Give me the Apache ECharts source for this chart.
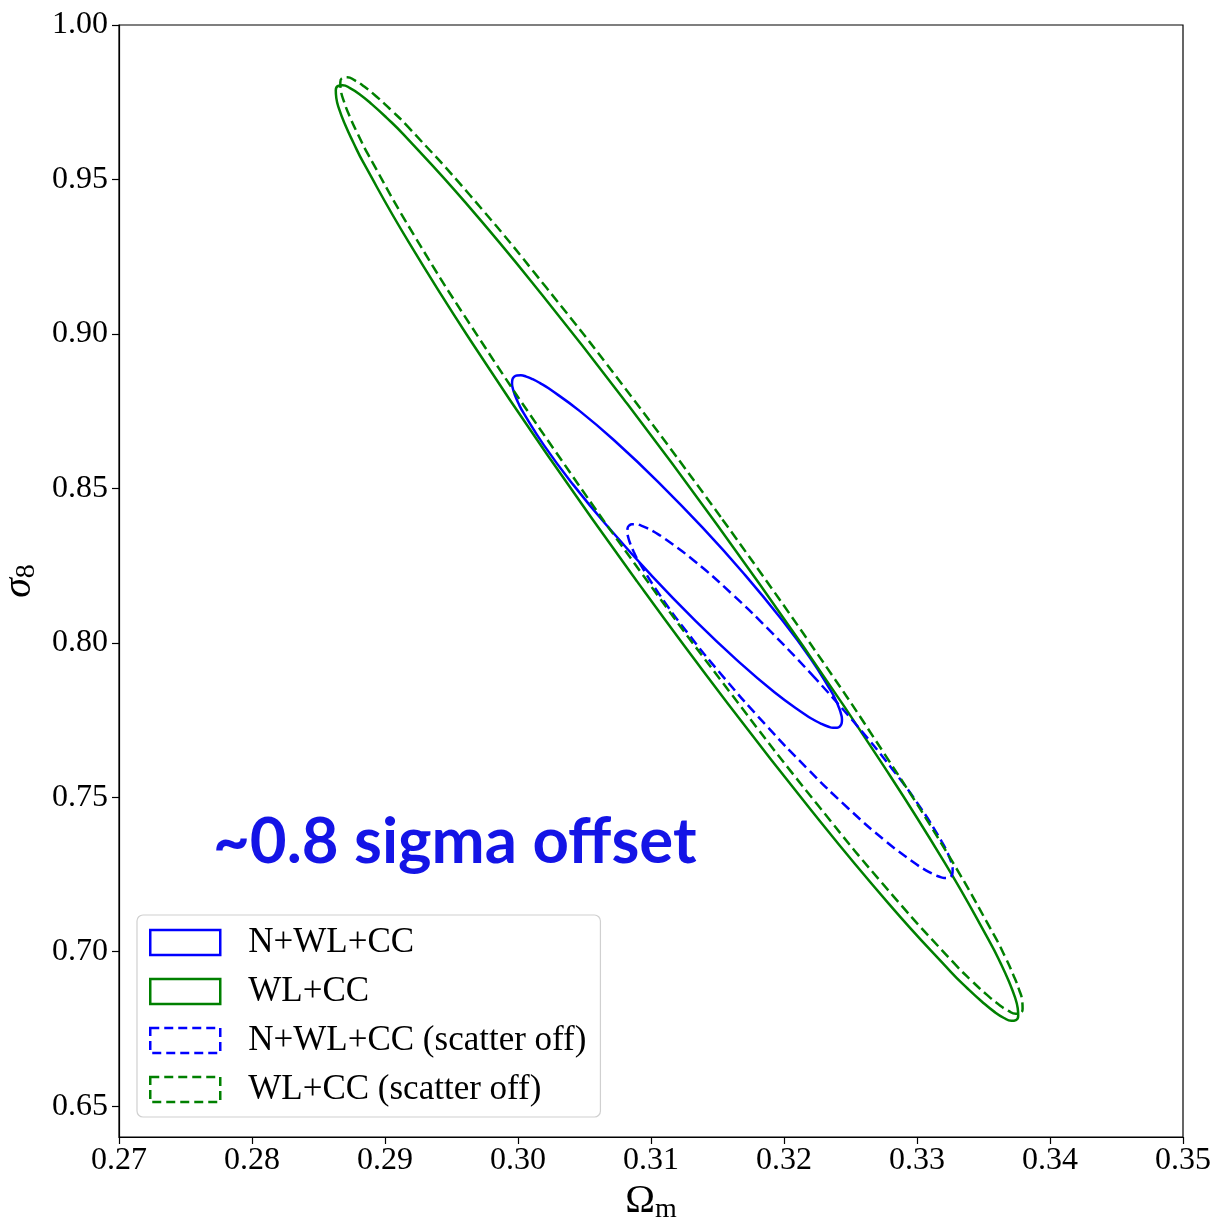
<!DOCTYPE html>
<html><head><meta charset="utf-8">
<script src="https://cdn.jsdelivr.net/npm/echarts@6/dist/echarts.min.js"></script>
<style>html,body{margin:0;padding:0;background:#fff}#c{width:1215px;height:1219px}</style>
</head><body><div id="c"></div>
<script>
// ---- data (Omega_m, sigma_8) ----
const xTicks = [0.27, 0.28, 0.29, 0.30, 0.31, 0.32, 0.33, 0.34, 0.35];
const yTicks = [0.65, 0.70, 0.75, 0.80, 0.85, 0.90, 0.95, 1.00];
const names = ['N+WL+CC', 'WL+CC', 'N+WL+CC (scatter off)', 'WL+CC (scatter off)'];

const nwlcc = [
  [0.31388,0.83726],[0.31064,0.85164],[0.30749,0.86451],[0.30465,0.87499],[0.30230,0.88238],
  [0.30166,0.88406],[0.30110,0.88533],[0.30062,0.88617],[0.30022,0.88658],[0.29991,0.88656],
  [0.29970,0.88610],[0.29958,0.88521],[0.29955,0.88390],[0.29962,0.88217],[0.29978,0.88004],[0.30003,0.87753],
  [0.30038,0.87465],[0.30193,0.86407],[0.30416,0.85112],[0.30693,0.83671],
  [0.31003,0.82181],[0.31327,0.80743],[0.31642,0.79456],[0.31926,0.78407],[0.32161,0.77669],
  [0.32225,0.77501],[0.32281,0.77374],[0.32330,0.77290],[0.32369,0.77249],[0.32400,0.77251],
  [0.32421,0.77297],[0.32433,0.77386],[0.32436,0.77517],[0.32429,0.77690],[0.32413,0.77903],[0.32388,0.78154],
  [0.32353,0.78441],[0.32198,0.79500],[0.31975,0.80794],[0.31699,0.82236]
];
const wlcc = [
  [0.31494,0.83838],[0.30824,0.87719],[0.30179,0.91273],[0.29604,0.94256],[0.29137,0.96466],
  [0.29011,0.97003],[0.28902,0.97432],[0.28811,0.97751],[0.28737,0.97957],[0.28682,0.98049],
  [0.28647,0.98025],[0.28630,0.97886],[0.28634,0.97633],[0.28656,0.97268],[0.28698,0.96794],[0.28760,0.96214],
  [0.28839,0.95533],[0.29183,0.92937],[0.29663,0.89657],[0.30248,0.85917],
  [0.30898,0.81972],[0.31567,0.78091],[0.32212,0.74537],[0.32787,0.71554],[0.33254,0.69345],
  [0.33380,0.68807],[0.33489,0.68378],[0.33580,0.68059],[0.33654,0.67853],[0.33709,0.67761],
  [0.33744,0.67785],[0.33761,0.67924],[0.33757,0.68177],[0.33735,0.68542],[0.33693,0.69016],[0.33632,0.69596],
  [0.33552,0.70277],[0.33209,0.72873],[0.32728,0.76153],[0.32143,0.79893]
];
const nwlccOff = [
  [0.32234,0.78857],[0.31914,0.80302],[0.31604,0.81598],[0.31324,0.82657],[0.31092,0.83406],
  [0.31029,0.83577],[0.30974,0.83707],[0.30926,0.83794],[0.30887,0.83838],[0.30857,0.83839],
  [0.30836,0.83795],[0.30824,0.83709],[0.30822,0.83580],[0.30829,0.83409],[0.30845,0.83198],[0.30870,0.82949],
  [0.30904,0.82662],[0.31057,0.81605],[0.31277,0.80310],[0.31550,0.78865],
  [0.31857,0.77369],[0.32176,0.75924],[0.32486,0.74628],[0.32767,0.73569],[0.32998,0.72820],
  [0.33061,0.72649],[0.33117,0.72519],[0.33164,0.72432],[0.33203,0.72388],[0.33233,0.72388],
  [0.33254,0.72431],[0.33266,0.72517],[0.33268,0.72646],[0.33262,0.72817],[0.33246,0.73028],[0.33221,0.73278],
  [0.33186,0.73564],[0.33033,0.74621],[0.32813,0.75916],[0.32540,0.77361]
];
const wlccOff = [
  [0.31524,0.84071],[0.30855,0.87957],[0.30210,0.91515],[0.29636,0.94503],[0.29170,0.96717],
  [0.29044,0.97256],[0.28935,0.97687],[0.28844,0.98007],[0.28770,0.98214],[0.28716,0.98307],
  [0.28680,0.98284],[0.28664,0.98146],[0.28668,0.97894],[0.28691,0.97529],[0.28733,0.97056],[0.28795,0.96476],
  [0.28875,0.95794],[0.29218,0.93198],[0.29699,0.89917],[0.30285,0.86174],
  [0.30934,0.82225],[0.31604,0.78339],[0.32248,0.74780],[0.32823,0.71792],[0.33289,0.69578],
  [0.33415,0.69039],[0.33524,0.68609],[0.33615,0.68289],[0.33688,0.68081],[0.33743,0.67989],
  [0.33778,0.68011],[0.33794,0.68149],[0.33791,0.68402],[0.33768,0.68766],[0.33725,0.69240],[0.33664,0.69820],
  [0.33584,0.70501],[0.33240,0.73097],[0.32759,0.76379],[0.32174,0.80122]
];
const annotation = '~0.8 sigma offset';

// ---- styling ----
const BLUE = '#0000ff', GREEN = '#008000';
const DASH = [10, 5];
const closeLoop = d => d.concat([d[0]]);
const serif = 'Liberation Serif';

const specs = [
  {name: names[0], data: nwlcc, color: BLUE, dashed: false},
  {name: names[1], data: wlcc, color: GREEN, dashed: false},
  {name: names[2], data: nwlccOff, color: BLUE, dashed: true},
  {name: names[3], data: wlccOff, color: GREEN, dashed: true}
];

const chart = echarts.init(document.getElementById('c'), null, {renderer: 'canvas'});
chart.setOption({
  animation: false,
  backgroundColor: '#fff',
  grid: {left: 119, right: 32, top: 25, bottom: 82, show: true, borderColor: '#000', borderWidth: 1.2,
         backgroundColor: 'transparent', containLabel: false, outerBoundsMode: 'none'},
  xAxis: {
    type: 'value', min: 0.27, max: 0.35,
    axisLine: {show: true, onZero: false, lineStyle: {color: '#000', width: 1.2}},
    axisTick: {show: true, inside: false, length: 7, customValues: xTicks, lineStyle: {color: '#000', width: 1.2}},
    axisLabel: {customValues: xTicks, formatter: v => v.toFixed(2), fontFamily: serif, fontSize: 32, color: '#000', margin: 8},
    splitLine: {show: false},
    name: '{o|Ω}{m|m}', nameLocation: 'middle', nameGap: 42,
    nameTextStyle: {rich: {o: {fontFamily: serif, fontSize: 40, color: '#000'}, m: {fontFamily: serif, fontSize: 28, color: '#000', padding: [15, 0, 0, 0]}}}
  },
  yAxis: {
    type: 'value', min: 0.64, max: 1.0,
    axisLine: {show: true, onZero: false, lineStyle: {color: '#000', width: 1.2}},
    axisTick: {show: true, inside: false, length: 7, customValues: yTicks, lineStyle: {color: '#000', width: 1.2}},
    axisLabel: {customValues: yTicks, formatter: v => v.toFixed(2), fontFamily: serif, fontSize: 32, color: '#000', margin: 11},
    splitLine: {show: false},
    name: '{s|σ}{n|8}', nameLocation: 'middle', nameGap: 76,
    nameTextStyle: {rich: {s: {fontFamily: serif, fontStyle: 'italic', fontSize: 40, color: '#000'}, n: {fontFamily: serif, fontSize: 28, color: '#000', padding: [15, 0, 0, 0]}}}
  },
  legend: {
    orient: 'vertical', left: 137, top: 915,
    padding: [10, 14, 10, 12],
    backgroundColor: '#fff', borderColor: '#d0d0d0', borderWidth: 1.2, borderRadius: 6,
    itemWidth: 70, itemHeight: 25, itemGap: 14,
    textStyle: {fontFamily: serif, fontSize: 35, color: '#000', padding: [0, 0, 0, 23]},
    data: specs.map(s => ({
      name: s.name, icon: 'rect',
      itemStyle: {color: 'rgba(0,0,0,0)', borderColor: s.color, borderWidth: 2.5, borderType: s.dashed ? [9, 5] : 'solid'}
    }))
  },
  graphic: [{
    type: 'text', left: 213, top: 811, z: 100,
    style: {text: annotation, font: 'bold 63.5px Lato', fill: '#1414e6'}
  }],
  series: specs.map(s => ({
    name: s.name, type: 'line', data: closeLoop(s.data),
    smooth: 0.5, showSymbol: false, symbol: 'none',
    lineStyle: {color: s.color, width: 2.5, type: s.dashed ? DASH : 'solid'},
    itemStyle: {color: s.color}
  }))
});
</script></body></html>
